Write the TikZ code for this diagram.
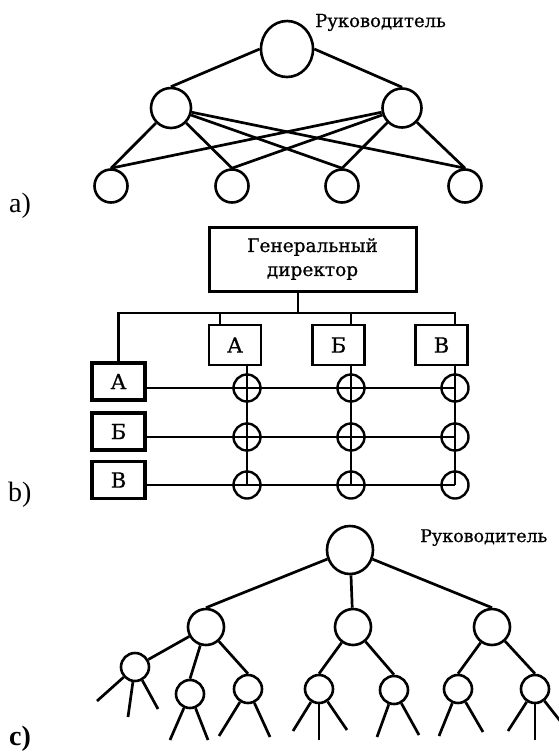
\documentclass[tikz,border=0pt]{standalone}
\usepackage{fontspec}
\setmainfont{DejaVu Serif}
\newfontfamily\txt{DejaVu Serif}[FakeBold=0.7]
\newfontfamily\lblfont{Liberation Serif}
\usetikzlibrary{shapes.geometric}
\begin{document}
\begin{tikzpicture}[x=1pt,y=-1pt,
  ln/.style={line width=2.7pt},
  nd/.style={draw,line width=2.6pt,circle,inner sep=0pt},
  el/.style={draw,line width=2.6pt,ellipse,inner sep=0pt},
  bx/.style={draw,rectangle,inner sep=0pt,font=\txt\fontsize{21}{24}\selectfont},
  lab/.style={font=\txt\fontsize{18}{21}\selectfont,anchor=base west,inner sep=0pt},
  part/.style={font=\lblfont\fontsize{28}{32}\selectfont,anchor=base west,inner sep=0pt},
  xing/.style={draw,line width=2.4pt,circle,inner sep=0pt,minimum size=27},
]
\useasboundingbox (0,0) rectangle (559,753);
\fill[white] (0,0) rectangle (559,753);
\clip (0,0) rectangle (559,753);

% ---------- part a ----------
\node[el,minimum width=52,minimum height=56] (aT) at (287,49) {};
\node[lab] (aL) at (315,27) {Руководитель};
\node[nd,minimum size=40] (aM1) at (171,108) {};
\node[nd,minimum size=39] (aM2) at (402,108) {};
\node[nd,minimum size=33] (aB1) at (111,186) {};
\node[nd,minimum size=33] (aB2) at (232,186) {};
\node[nd,minimum size=33] (aB3) at (342,186) {};
\node[nd,minimum size=33] (aB4) at (465,186) {};
\draw[ln] (aT.west) -- (aM1.north);
\draw[ln] (aT.east) -- (aM2.north);
\foreach \i in {1,...,4}{
  \draw[ln] (aM1) -- (aB\i.north);
  \draw[ln] (aM2) -- (aB\i.north);
}
\node[part] (la) at (9,212) {a)};

% ---------- part b ----------
\node[bx,line width=3pt,minimum width=207,minimum height=64,align=center,
      font=\txt\fontsize{18.5}{24}\selectfont] (gd) at (312.5,259) {Генеральный\\директор};
\node[bx,line width=2.8pt,minimum width=52,minimum height=40] (tA) at (235,345) {А};
\node[bx,line width=2.8pt,minimum width=52,minimum height=40] (tB) at (338.5,345) {Б};
\node[bx,line width=2.8pt,minimum width=52,minimum height=40] (tV) at (441.5,345) {В};
\node[bx,line width=3.6pt,minimum width=53,minimum height=37] (lA) at (118.5,381.5) {А};
\node[bx,line width=3.6pt,minimum width=53,minimum height=37] (lB) at (118.5,431.5) {Б};
\node[bx,line width=3.6pt,minimum width=53,minimum height=37] (lV) at (118.5,480) {В};

\coordinate (bus) at (298,313);
\coordinate (busR) at (455,313);
\coordinate (dA) at (220,313);
\coordinate (dB) at (351,313);
\draw[ln] (gd.south -| bus) -- (bus);
\draw[ln] (lA.north) -- (lA.north |- bus) -- (busR) -- (tV.north -| busR);
\draw[ln] (dA) -- (tA.north -| dA);
\draw[ln] (dB) -- (tB.north -| dB);

\coordinate (rA) at (455,388);
\coordinate (rB) at (455,437);
\coordinate (rV) at (455,485);
\coordinate (cA) at (247,485);
\coordinate (cB) at (351,485);
\coordinate (cV) at (455,485);
\draw[ln] (tA.south -| cA) -- (cA);
\draw[ln] (tB.south -| cB) -- (cB);
\draw[ln] (tV.south -| cV) -- (cV);
\draw[ln] (lA.east |- rA) -- (rA);
\draw[ln] (lB.east |- rB) -- (rB);
\draw[ln] (lV.east |- rV) -- (rV);
\foreach \c in {A,B,V}{
  \foreach \r in {A,B,V}{
    \node[xing] (x\c\r) at (c\c |- r\r) {};
  }
}
\node[part] (lb) at (8,501) {b)};

% ---------- part c ----------
\node[el,minimum width=46,minimum height=48] (cT) at (350,550) {};
\node[lab,font=\txt\fontsize{17.5}{21}\selectfont] (cL) at (420,542) {Руководитель};
\node[nd,minimum size=36] (c1) at (206,627) {};
\node[nd,minimum size=36] (c2) at (353,627) {};
\node[nd,minimum size=36] (c3) at (492,627) {};
\node[nd,minimum size=28] (L1) at (135,667) {};
\node[nd,minimum size=28] (L2) at (190,694) {};
\node[nd,minimum size=28] (L3) at (248,689) {};
\node[nd,minimum size=28] (M1) at (319,689) {};
\node[nd,minimum size=28] (M2) at (394,690) {};
\node[nd,minimum size=28] (R1) at (458,689) {};
\node[nd,minimum size=28] (R2) at (535,689) {};
\draw[ln] (cT) -- (c1.north);
\draw[ln] (cT) -- (c2);
\draw[ln] (cT) -- (c3.north);
\draw[ln] (c1) -- (L1);
\draw[ln] (c1) -- (L2.north);
\draw[ln] (c1) -- (L3.north);
\draw[ln] (c2) -- (M1.north);
\draw[ln] (c2) -- (M2.north);
\draw[ln] (c3) -- (R1.north);
\draw[ln] (c3) -- (R2.north);

\coordinate (e1) at (97,701);  \coordinate (e2) at (128,717); \coordinate (e3) at (158,709);
\coordinate (e4) at (170,740); \coordinate (e5) at (208,740);
\coordinate (e6) at (219,736); \coordinate (e7) at (270,737);
\coordinate (e8) at (293,731); \coordinate (e9) at (319,740); \coordinate (e10) at (347,730);
\coordinate (e11) at (377,737); \coordinate (e12) at (419,735);
\coordinate (e13) at (439,736); \coordinate (e14) at (483,732);
\coordinate (e15) at (508,731); \coordinate (e16) at (535,740); \coordinate (e17) at (565,727);
\foreach \n/\e in {L1/e1,L1/e2,L1/e3,L2/e4,L2/e5,L3/e6,L3/e7,M1/e8,M1/e9,M1/e10,
                   M2/e11,M2/e12,R1/e13,R1/e14,R2/e15,R2/e16,R2/e17}{
  \draw[ln] (\n) -- (\e);
}
\node[part,font=\lblfont\bfseries\fontsize{28}{32}\selectfont] (lc) at (9,745) {c)};
\end{tikzpicture}
\end{document}
